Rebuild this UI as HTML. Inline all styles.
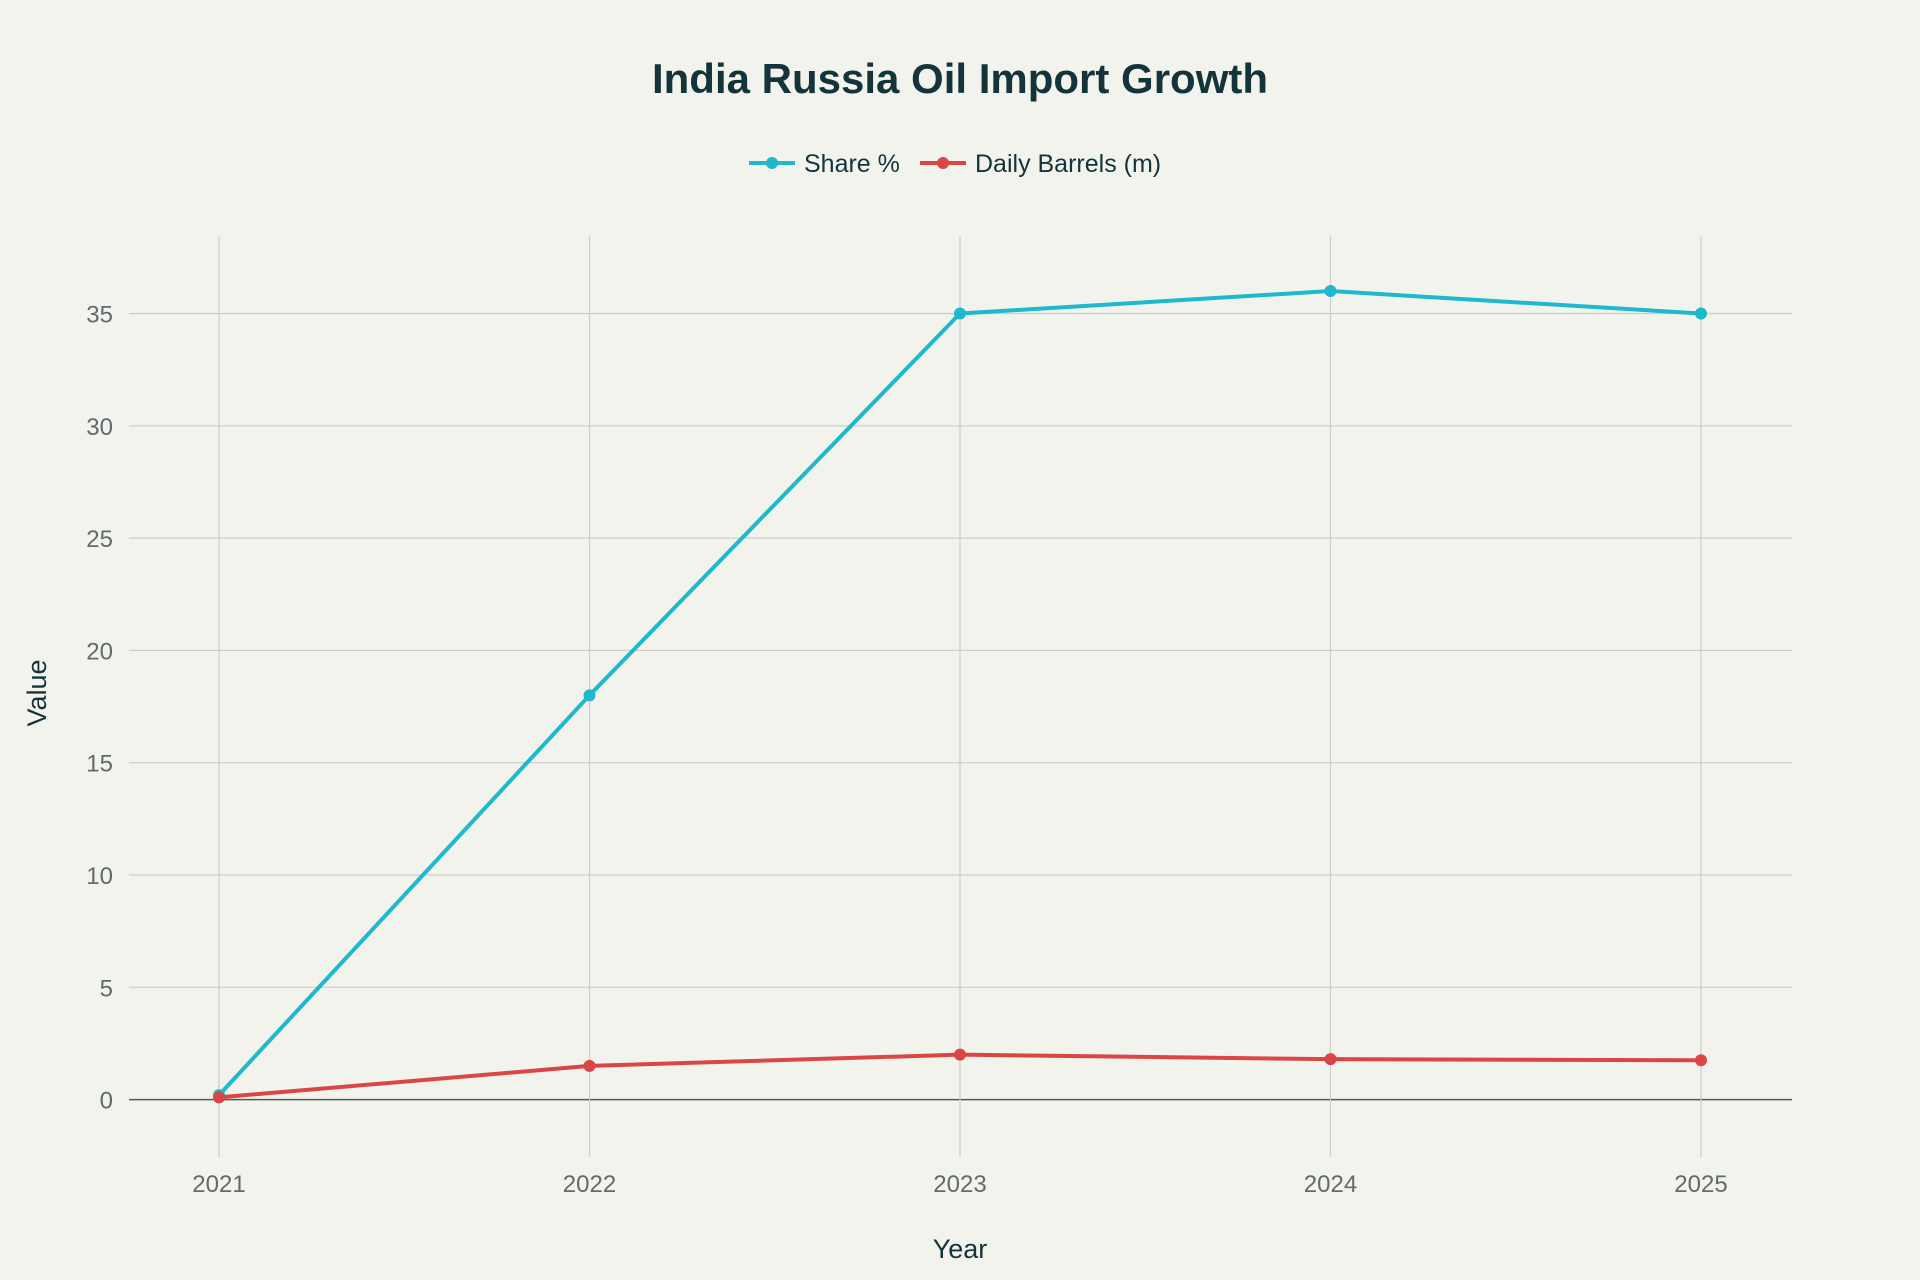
<!DOCTYPE html>
<html><head><meta charset="utf-8"><style>
html,body{margin:0;padding:0;background:#f3f3ee;}
svg{display:block;font-family:"Liberation Sans",sans-serif;}
</style></head><body>
<svg id="chart" width="1920" height="1280" viewBox="0 0 1920 1280">
<rect width="1920" height="1280" fill="#f3f3ee"/>
<text x="960" y="93" text-anchor="middle" font-size="42" font-weight="bold" fill="#13343b">India Russia Oil Import Growth</text>
<g id="grid"></g><g id="series"></g>
<g>
<g>
<line x1="749" y1="163" x2="795" y2="163" stroke="#1fb8cd" stroke-width="4"/><circle cx="772" cy="163" r="6" fill="#1fb8cd"/>
<text x="804" y="172" font-size="25" fill="#13343b">Share %</text></g>
<g>
<line x1="920" y1="163" x2="966" y2="163" stroke="#db4545" stroke-width="4"/><circle cx="943" cy="163" r="6" fill="#db4545"/>
<text x="975" y="172" font-size="25" fill="#13343b">Daily Barrels (m)</text></g>
</g>
<text x="960" y="1258" text-anchor="middle" font-size="27" fill="#13343b">Year</text>
<text transform="translate(46,693) rotate(-90)" text-anchor="middle" font-size="27" fill="#13343b">Value</text>
</svg>
<script>
const years=["2021","2022","2023","2024","2025"];
const shareValues=[0.2,18,35,36,35];
const barrelValues=[0.1,1.5,2.0,1.8,1.75];
const yTicks=[0,5,10,15,20,25,30,35];
const NS="http://www.w3.org/2000/svg";
const x=i=>219+i*(1701-219)/(years.length-1);
const y=v=>1099.6-v*(1099.6-313.5)/35;
const grid=document.getElementById('grid'),ser=document.getElementById('series');
function mk(tag,attrs,parent){const e=document.createElementNS(NS,tag);for(const k in attrs)e.setAttribute(k,attrs[k]);parent.appendChild(e);return e;}
yTicks.forEach(t=>{
 const l=mk('line',{x1:129,x2:1792,y1:y(t),y2:y(t),stroke:t===0?'#555':'#cdcdc8','stroke-width':t===0?1.5:1.2},grid);
 
 
 const tx=mk('text',{x:113,y:y(t)+9,'text-anchor':'end','font-size':24,fill:'#5f6b6d'},grid);tx.textContent=t;
 
 
});
years.forEach((yr,i)=>{
 const l=mk('line',{x1:x(i),x2:x(i),y1:236,y2:1157,stroke:'#cdcdc8','stroke-width':1.2},grid);
 
 
 const tx=mk('text',{x:x(i),y:1192,'text-anchor':'middle','font-size':24,fill:'#5f6b6d'},grid);tx.textContent=yr;
 
 
});
function draw(vals,color,name){
 const p=mk('polyline',{points:vals.map((v,i)=>x(i)+','+y(v)).join(' '),fill:'none',stroke:color,'stroke-width':4,'stroke-linejoin':'round'},ser);
 
 
 vals.forEach((v,i)=>{const c=mk('circle',{cx:x(i),cy:y(v),r:6,fill:color},ser);
 
 });
}
draw(shareValues,'#1fb8cd','share');
draw(barrelValues,'#db4545','barrels');
</script>
</body></html>
